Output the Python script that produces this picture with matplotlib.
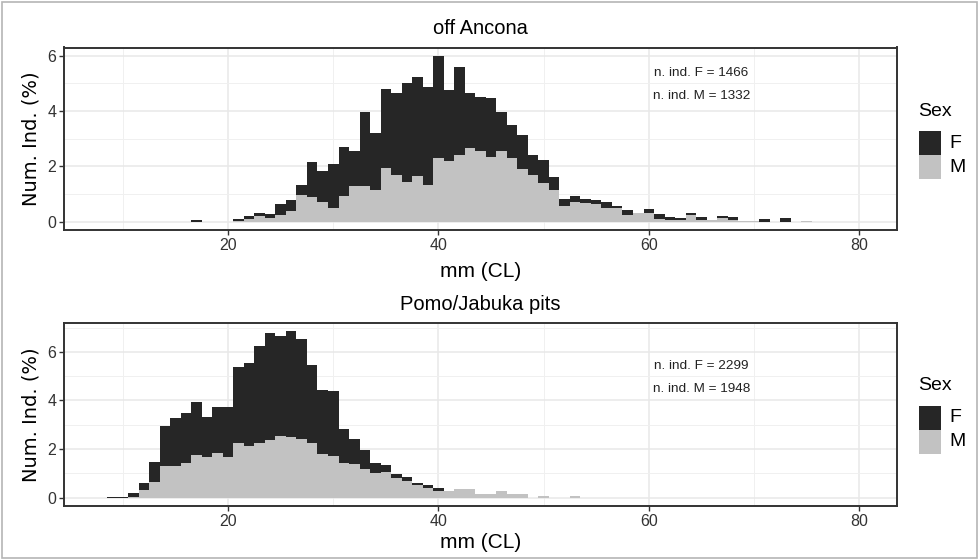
import matplotlib
matplotlib.use("Agg")
import matplotlib.pyplot as plt
from matplotlib.patches import Rectangle

# ---------------- data ----------------
# off Ancona: 1-mm size classes (CL, mm), % of individuals
bins_ancona = [17, 18, 19, 20, 21, 22, 23, 24, 25, 26, 27, 28, 29, 30, 31, 32, 33, 34, 35,
               36, 37, 38, 39, 40, 41, 42, 43, 44, 45, 46, 47, 48, 49, 50, 51, 52, 53, 54,
               55, 56, 57, 58, 59, 60, 61, 62, 63, 64, 65, 66, 67, 68, 69, 70, 71, 72, 73,
               74, 75]
m_ancona = [0, 0, 0, 0, 0.03, 0.08, 0.22, 0.14, 0.25, 0.37, 0.97, 0.91, 0.70, 0.50, 0.94,
            1.30, 1.30, 1.14, 1.94, 1.68, 1.45, 1.65, 1.33, 2.30, 2.18, 2.42, 2.66, 2.54,
            2.34, 2.54, 2.30, 1.90, 1.70, 1.39, 1.15, 0.58, 0.73, 0.67, 0.65, 0.49, 0.49,
            0.24, 0.31, 0.31, 0.11, 0.07, 0.05, 0.25, 0.07, 0.07, 0.12, 0.07, 0.04, 0.04,
            0, 0, 0, 0, 0.04]
f_ancona = [0.07, 0, 0, 0, 0.08, 0.11, 0.09, 0.14, 0.39, 0.43, 0.36, 1.25, 1.13, 1.59, 1.76,
            1.24, 2.67, 2.06, 2.85, 2.97, 3.56, 3.58, 3.53, 3.69, 2.57, 3.18, 1.99, 1.96,
            2.15, 1.44, 1.20, 1.24, 0.70, 0.84, 0.48, 0.24, 0.21, 0.15, 0.14, 0.23, 0.09,
            0.17, 0.02, 0.16, 0.18, 0.10, 0.08, 0.07, 0.10, 0, 0.08, 0.10, 0, 0,
            0.10, 0, 0.12, 0, 0]

# Pomo/Jabuka pits
bins_pomo = [9, 10, 11, 12, 13, 14, 15, 16, 17, 18, 19, 20, 21, 22, 23, 24, 25, 26, 27, 28,
             29, 30, 31, 32, 33, 34, 35, 36, 37, 38, 39, 40, 41, 42, 43, 44, 45, 46, 47, 48,
             49, 50, 51, 52, 53]
m_pomo = [0, 0, 0.03, 0.30, 0.66, 1.30, 1.31, 1.42, 1.76, 1.68, 1.82, 1.68, 2.23, 2.14, 2.27,
          2.36, 2.55, 2.51, 2.42, 2.23, 1.79, 1.72, 1.41, 1.38, 1.17, 1.03, 1.05, 0.80, 0.69,
          0.52, 0.41, 0.28, 0.28, 0.35, 0.35, 0.17, 0.14, 0.28, 0.14, 0.17, 0, 0.07, 0, 0,
          0.07]
f_pomo = [0.04, 0.04, 0.18, 0.32, 0.79, 1.63, 1.97, 2.07, 2.17, 1.65, 1.90, 2.07, 3.14, 3.41,
          3.96, 4.42, 4.10, 4.36, 4.12, 3.25, 2.66, 2.66, 1.42, 1.03, 0.79, 0.38, 0.30, 0.17,
          0.17, 0.10, 0.11, 0.11, 0, 0, 0, 0, 0, 0, 0, 0, 0, 0, 0, 0, 0]

titles = ["off Ancona", "Pomo/Jabuka pits"]
n_labels = [["n. ind. F = 1466", "n. ind. M = 1332"],
            ["n. ind. F = 2299", "n. ind. M = 1948"]]
x_ticks = [20, 40, 60, 80]
y_ticks = [0, 2, 4, 6]
sex_levels = ["F", "M"]

# ---------------- style ----------------
W, H = 979, 560
FONT = "Liberation Sans"
C_F = "#262626"
C_M = "#c2c2c2"
GRID = "#e8e8e8"

fig = plt.figure(figsize=(W / 100, H / 100), dpi=100)
fig.patch.set_facecolor("white")
fig.add_artist(Rectangle((0.002, 0.003), 0.996, 0.994, transform=fig.transFigure,
                         fill=False, edgecolor="#b5b5b5", linewidth=1.2))


def px_rect(l, t, r, b):
    return [l / W, 1 - b / H, (r - l) / W, (b - t) / H]


panels = [
    dict(rect=px_rect(64, 47.5, 897, 230), bins=bins_ancona, m=m_ancona, f=f_ancona,
         ylim=(-0.3, 6.3), ann_y=(5.38, 4.55), title_y=28, xlab_y=271,
         legend_top=101),
    dict(rect=px_rect(64, 322.5, 897, 506), bins=bins_pomo, m=m_pomo, f=f_pomo,
         ylim=(-0.344, 7.21), ann_y=(5.40, 4.47), title_y=305, xlab_y=543,
         legend_top=376),
]

for i, p in enumerate(panels):
    ax = fig.add_axes(p["rect"])
    ax.set_facecolor("white")
    ax.bar(p["bins"], p["m"], width=1.0, color=C_M, linewidth=0, zorder=3)
    ax.bar(p["bins"], p["f"], width=1.0, bottom=p["m"], color=C_F, linewidth=0, zorder=3)
    ax.set_xlim(4.4, 83.6)
    ax.set_ylim(*p["ylim"])
    ax.set_xticks(x_ticks)
    ax.set_xticks([10, 30, 50, 70], minor=True)
    ax.set_yticks(y_ticks)
    ax.set_yticks([1, 3, 5, 7] if i == 1 else [1, 3, 5], minor=True)
    ax.grid(True, which="major", color=GRID, linewidth=1.1, zorder=0)
    ax.grid(True, which="minor", color="#f0f0f0", linewidth=0.7, zorder=0)
    ax.set_axisbelow(True)
    ax.tick_params(which="major", length=3.5, width=1, color="#333333", direction="out",
                   labelsize=11.5, labelcolor="#333333", pad=2)
    ax.tick_params(which="minor", length=0)
    for lab in ax.get_xticklabels() + ax.get_yticklabels():
        lab.set_fontfamily(FONT)
    for s in ax.spines.values():
        s.set_color("#333333")
        s.set_linewidth(1.4)
    ax.text(65, p["ann_y"][0], n_labels[i][0], ha="center", va="center", fontsize=9.7,
            family=FONT, color="#222222", zorder=5)
    ax.text(65, p["ann_y"][1], n_labels[i][1], ha="center", va="center", fontsize=9.7,
            family=FONT, color="#222222", zorder=5)

    # titles and axis labels
    fig.text(480.5 / W, 1 - p["title_y"] / H, titles[i], ha="center", va="center",
             fontsize=14.5, family=FONT, color="black")
    fig.text(480.5 / W, 1 - p["xlab_y"] / H, "mm (CL)", ha="center", va="center",
             fontsize=15, family=FONT, color="black")
    yc = (p["rect"][1] + p["rect"][3] / 2)
    fig.text(31 / W, yc, "Num. Ind. (%)", ha="center", va="center", rotation=90,
             fontsize=14, family="DejaVu Sans", color="black")

    # legend
    lt = p["legend_top"]
    fig.text(918 / W, 1 - (lt + 10) / H, "Sex", ha="left", va="center", fontsize=14,
             family=FONT, color="black")
    for k, (lvl, col) in enumerate(zip(sex_levels, [C_F, C_M])):
        top = lt + 30 + k * 24
        fig.add_artist(Rectangle((919 / W, 1 - (top + 24) / H), 22 / W, 24 / H,
                                 transform=fig.transFigure, facecolor=col,
                                 edgecolor="none"))
        fig.text(949 / W, 1 - (top + 12) / H, lvl, ha="left", va="center", fontsize=14,
                 family=FONT, color="black")

fig.savefig("out.png", dpi=100, facecolor="white")
